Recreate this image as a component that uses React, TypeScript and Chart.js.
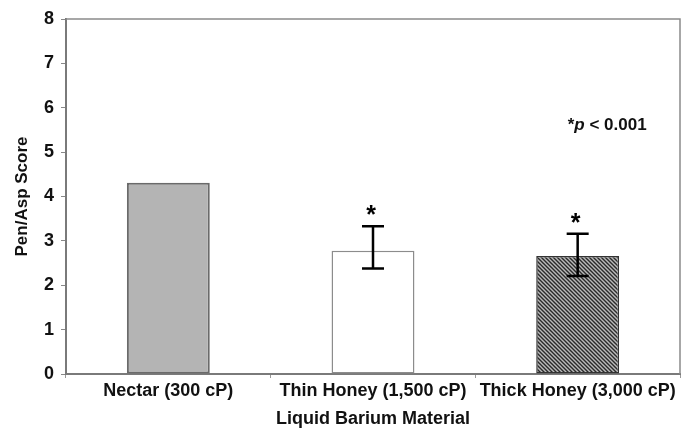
import React, { useEffect, useRef } from 'react';
import { Chart, registerables } from 'chart.js';

Chart.register(...registerables);

const categories = ['Nectar (300 cP)', 'Thin Honey (1,500 cP)', 'Thick Honey (3,000 cP)'];
const scores = [4.31, 2.78, 2.66];
const errorHigh: (number | null)[] = [null, 3.33, 3.16];
const errorLow: (number | null)[] = [null, 2.38, 2.21];
const significant = [false, true, true];
const yMin = 0;
const yMax = 8;
const yStep = 1;
const yAxisTitle = 'Pen/Asp Score';
const xAxisTitle = 'Liquid Barium Material';
const noteStar = '*';
const noteItalic = 'p';
const noteRest = ' < 0.001';
const noteCategoryIndex = 2;
const noteValueY = 5.6;

const FONT = '"Liberation Sans", Arial, Helvetica, sans-serif';

function makeHatch(): CanvasPattern | string {
  const c = document.createElement('canvas');
  const s = 4;
  c.width = s;
  c.height = s;
  const g = c.getContext('2d');
  if (!g) return '#777';
  g.fillStyle = '#bababa';
  g.fillRect(0, 0, s, s);
  g.strokeStyle = '#2a2a2a';
  g.lineWidth = 1.4;
  g.beginPath();
  g.moveTo(-1, -1);
  g.lineTo(s + 1, s + 1);
  g.moveTo(-1, s - 1);
  g.lineTo(1, s + 1);
  g.moveTo(s - 1, -1);
  g.lineTo(s + 1, 1);
  g.stroke();
  const p = g.createPattern(c, 'repeat');
  return p || '#777';
}

const errorBarPlugin = {
  id: 'errorBars',
  afterDatasetsDraw(chart: any) {
    const ctx = chart.ctx;
    const yScale = chart.scales.y;
    const meta = chart.getDatasetMeta(0);
    ctx.save();
    meta.data.forEach((bar: any, i: number) => {
      const hi = errorHigh[i];
      const lo = errorLow[i];
      const x = bar.x;
      if (hi != null && lo != null) {
        const yh = yScale.getPixelForValue(hi);
        const yl = yScale.getPixelForValue(lo);
        ctx.strokeStyle = '#000';
        ctx.lineWidth = 2.5;
        ctx.beginPath();
        ctx.moveTo(x, yh);
        ctx.lineTo(x, yl);
        ctx.moveTo(x - 11, yh);
        ctx.lineTo(x + 11, yh);
        ctx.moveTo(x - 11, yl);
        ctx.lineTo(x + 11, yl);
        ctx.stroke();
        if (significant[i]) {
          ctx.fillStyle = '#000';
          ctx.font = `bold 25px ${FONT}`;
          ctx.textAlign = 'center';
          ctx.textBaseline = 'alphabetic';
          ctx.fillText('*', x - 2, yh - 3);
        }
      }
    });
    ctx.restore();
  },
  afterDraw(chart: any) {
    const ctx = chart.ctx;
    const { left, top, right, bottom } = chart.chartArea;
    ctx.save();
    ctx.strokeStyle = '#8a8a8a';
    ctx.lineWidth = 1.5;
    ctx.beginPath();
    ctx.moveTo(left, top);
    ctx.lineTo(right, top);
    ctx.lineTo(right, bottom);
    ctx.stroke();
    const xs = chart.scales.x.getPixelForValue(noteCategoryIndex) - 10;
    const ys = chart.scales.y.getPixelForValue(noteValueY);
    ctx.fillStyle = '#111';
    ctx.textBaseline = 'middle';
    ctx.textAlign = 'left';
    let cx = xs;
    ctx.font = `bold 17px ${FONT}`;
    ctx.fillText(noteStar, cx, ys);
    cx += ctx.measureText(noteStar).width;
    ctx.font = `italic bold 17px ${FONT}`;
    ctx.fillText(noteItalic, cx, ys);
    cx += ctx.measureText(noteItalic).width;
    ctx.font = `bold 17px ${FONT}`;
    ctx.fillText(noteRest, cx, ys);
    ctx.restore();
  },
};

export default function App() {
  const ref = useRef<HTMLCanvasElement | null>(null);

  useEffect(() => {
    if (!ref.current) return;
    const hatch = makeHatch();
    const chart = new Chart(ref.current, {
      type: 'bar',
      data: {
        labels: categories,
        datasets: [
          {
            data: scores,
            backgroundColor: ['#b4b4b4', '#ffffff', hatch as any],
            borderColor: ['#6a6a6a', '#8c8c8c', '#333333'],
            borderWidth: [2, 1.5, 1.5],
            borderSkipped: false,
            categoryPercentage: 1,
            barPercentage: 0.405,
          },
        ],
      },
      options: {
        animation: false,
        responsive: false,
        maintainAspectRatio: false,
        layout: { padding: { top: 19, right: 8, left: 0, bottom: 0 } },
        plugins: {
          legend: { display: false },
          tooltip: { enabled: false },
        },
        scales: {
          x: {
            grid: {
              display: true,
              drawOnChartArea: false,
              offset: true,
              tickLength: 4,
              color: '#999',
              lineWidth: 1,
            },
            border: { display: true, color: '#7a7a7a', width: 2 },
            ticks: {
              color: '#111',
              font: { family: FONT, size: 18, weight: 'bold' },
              padding: 2,
              maxRotation: 0,
              autoSkip: false,
            },
            title: {
              display: true,
              text: xAxisTitle,
              color: '#111',
              font: { family: FONT, size: 18, weight: 'bold' },
              padding: { top: 0, bottom: 0 },
            },
            afterFit: (s: any) => {
              s.height = 56;
            },
          },
          y: {
            min: yMin,
            max: yMax,
            ticks: {
              stepSize: yStep,
              color: '#111',
              font: { family: FONT, size: 18, weight: 'bold' },
              padding: 7,
            },
            grid: {
              display: true,
              drawOnChartArea: false,
              tickLength: 5,
              color: '#888',
            },
            border: { display: true, color: '#7a7a7a', width: 2 },
            title: {
              display: true,
              text: yAxisTitle,
              color: '#111',
              font: { family: FONT, size: 17, weight: 'bold' },
              padding: { top: 12, bottom: 0 },
            },
            afterFit: (s: any) => {
              s.width = 66;
            },
          },
        },
      } as any,
      plugins: [errorBarPlugin],
    });
    return () => chart.destroy();
  }, []);

  return (
    <div style={{ position: 'absolute', left: 0, top: 0, width: 688, height: 430, background: '#fff' }}>
      <canvas ref={ref} width={688} height={430} />
    </div>
  );
}
